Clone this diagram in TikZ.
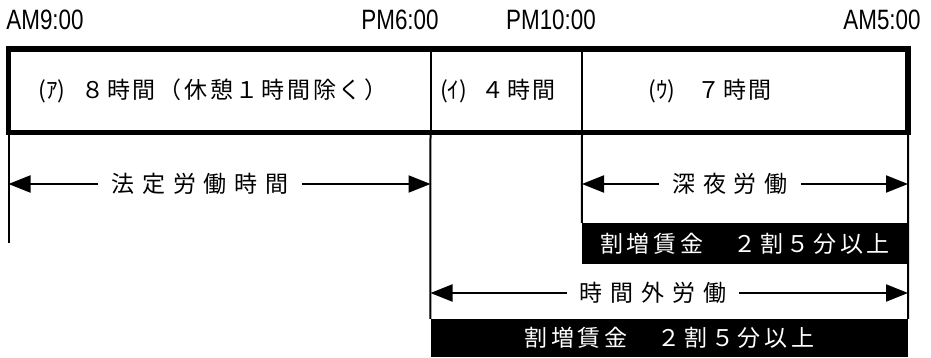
\documentclass[tikz,border=0pt]{standalone}
\usepackage{fontspec}
\usetikzlibrary{arrows.meta}
\newfontfamily\jpbox[LetterSpace=12]{Noto Sans CJK JP}
\newfontfamily\jpwhite[LetterSpace=16]{Noto Sans CJK JP}
\newfontfamily\jparr[LetterSpace=34]{Noto Sans CJK JP}
\newfontfamily\jpplain{Noto Sans CJK JP}
\newfontfamily\timefont[FakeStretch=0.8]{Liberation Sans}
\begin{document}
\begin{tikzpicture}[x=1pt,y=-1pt,
  thinline/.style={line width=2pt},
  frame/.style={line width=5.5pt},
  timelabel/.style={font=\timefont\fontsize{28pt}{30pt}\selectfont, inner sep=0pt},
  celltext/.style={font=\jpbox\fontsize{23pt}{25pt}\selectfont, inner sep=0pt},
  arrowlabel/.style={font=\jparr\fontsize{23pt}{25pt}\selectfont, inner xsep=13pt, inner ysep=0pt},
  band/.style={fill=black, draw=none, text=white, font=\jpwhite\fontsize{23pt}{25pt}\selectfont, inner sep=0pt},
  dim/.style={line width=2pt, -{Triangle[length=22pt,width=17pt]}}]
\useasboundingbox (0,0) rectangle (931,357);

% time labels
\node[timelabel] (t9)  at (45,20)  {AM9:00};
\node[timelabel] (t18) at (400,20) {PM6:00};
\node[timelabel] (t22) at (551,20) {PM10:00};
\node[timelabel] (t5)  at (882,20) {AM5:00};

% frame coordinates
\coordinate (tL) at (8.5,49);
\coordinate (bL) at (8.5,132.5);
\coordinate (t1) at (430.5,49);
\coordinate (b1) at (430.5,132.5);
\coordinate (t2) at (582,49);
\coordinate (b2) at (582,132.5);
\coordinate (tR) at (908,49);
\coordinate (bR) at (908,132.5);

\draw[thinline] (t1) -- (b1);
\draw[thinline] (t2) -- (b2);
\draw[frame] (tL) rectangle (bR);

% cell texts
\node[celltext] (cellA) at (213,91) {{\jpplain (ｱ)}\hspace{16pt}８時間（休憩１時間除く）};
\node[celltext] (cellB) at (498,91) {{\jpplain (ｲ)}\hspace{14pt}４時間};
\node[celltext] (cellC) at (710,91) {{\jpplain (ｳ)}\hspace{22pt}７時間};

% wage bands
\node[band, minimum width=326pt, minimum height=41pt] (wage1) at (745,243.5) {割増賃金　２割５分以上};
\node[band, minimum width=477.5pt, minimum height=38pt] (wage2) at (669.25,338) {割増賃金　２割５分以上};

% vertical extension lines
\coordinate (eL) at (8.5,243);
\draw[thinline] (bL) -- (eL);
\draw[thinline] (b1) -- (wage2.north west);
\draw[thinline] (b2) -- (wage1.north west);
\draw[thinline] (bR) -- (wage2.north east);

% dimension arrows
\node[arrowlabel] (legal) at (200,184) {法定労働時間};
\coordinate (legalL) at (8.5,184);
\coordinate (legalR) at (430.5,184);
\draw[dim] (legal) -- (legalL);
\draw[dim] (legal) -- (legalR);

\node[arrowlabel] (night) at (730,184) {深夜労働};
\coordinate (nightL) at (582,184);
\coordinate (nightR) at (908,184);
\draw[dim] (night) -- (nightL);
\draw[dim] (night) -- (nightR);

\node[arrowlabel] (over) at (653,293) {時間外労働};
\coordinate (overL) at (430.5,293);
\coordinate (overR) at (908,293);
\draw[dim] (over) -- (overL);
\draw[dim] (over) -- (overR);
\end{tikzpicture}
\end{document}
